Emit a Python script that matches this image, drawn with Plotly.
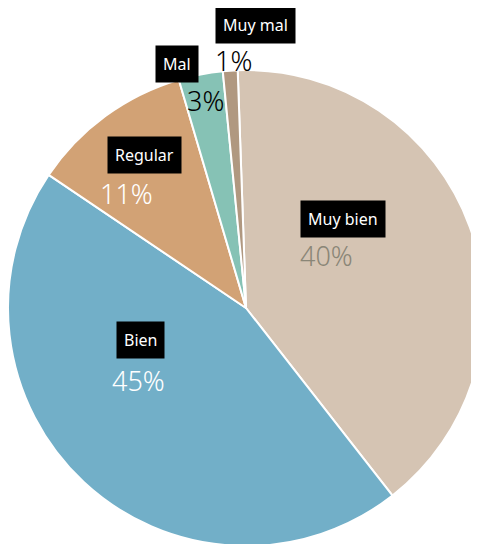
import plotly.graph_objects as go

# data
categorias = ['Muy bien', 'Bien', 'Regular', 'Mal', 'Muy mal']
valores = [40, 45, 11, 3, 1]
colores = ['#d5c4b3', '#72afc8', '#d2a275', '#86c2b5', '#b09880']
etiquetas_pct = ['40%', '45%', '11%', '3%', '1%']
color_pct = ['#8a8677', 'white', 'white', 'black', 'black']

W, H = 479, 544
OFF = 8  # page body margin
FONT = 'Noto Sans'

def px(x):
    return (x - OFF) / W

def py(y):
    return 1 - (y - OFF) / H

fig = go.Figure(go.Pie(
    labels=categorias,
    values=valores,
    marker=dict(colors=colores, line=dict(color='white', width=2)),
    sort=False,
    direction='clockwise',
    rotation=-2,
    textinfo='none',
    hoverinfo='label+percent',
    domain=dict(x=[px(8), px(484)], y=[py(546), py(70)]),
    showlegend=False,
))

# label boxes (centre x, centre y) and percent text (left x, centre y)
caja_pos = [(343, 219), (140, 340), (144, 155), (177, 64), (255, 25)]
pct_pos = [(298, 256), (110, 380), (98, 193), (185, 100), (213, 60)]

annotations = []
for i, cat in enumerate(categorias):
    cx, cy = caja_pos[i]
    annotations.append(dict(
        x=px(cx), y=py(cy), xref='paper', yref='paper',
        text=cat, showarrow=False,
        font=dict(family=FONT, size=16, color='white'),
        bgcolor='black', borderpad=7,
        xanchor='center', yanchor='middle'))
    tx, ty = pct_pos[i]
    annotations.append(dict(
        x=px(tx), y=py(ty), xref='paper', yref='paper',
        text=etiquetas_pct[i], showarrow=False,
        font=dict(family=FONT, size=27, color=color_pct[i], weight=300),
        xanchor='left', yanchor='middle'))

fig.update_layout(
    width=W, height=H,
    margin=dict(l=0, r=0, t=0, b=0),
    paper_bgcolor='white',
    plot_bgcolor='white',
    annotations=annotations,
)

fig.write_html("out.html")
